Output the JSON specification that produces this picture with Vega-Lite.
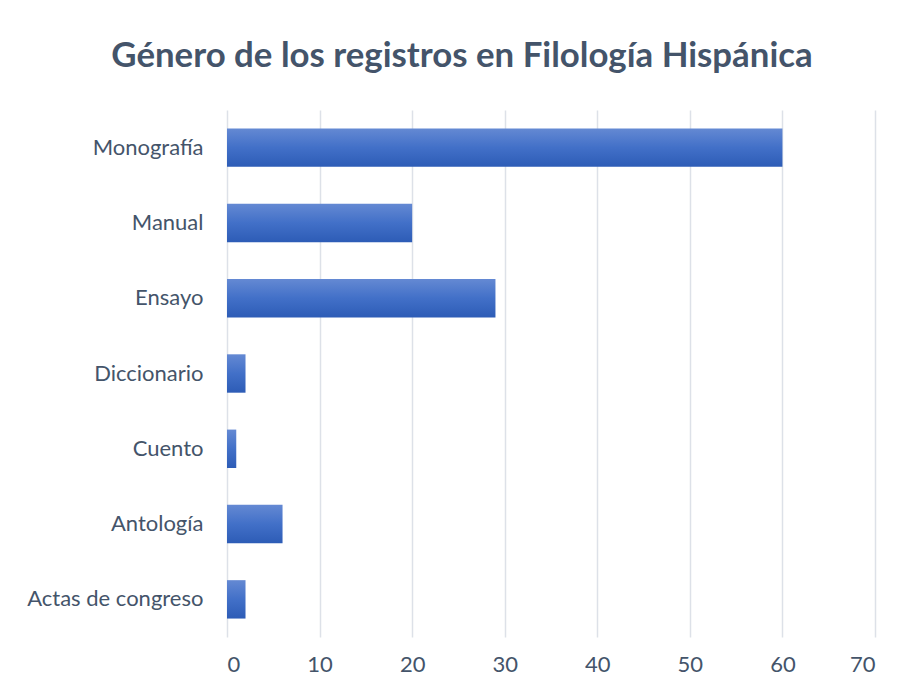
{
  "$schema": "https://vega.github.io/schema/vega-lite/v6.json",
  "width": 648,
  "height": 527,
  "autosize": {"type": "none"},
  "padding": {"left": 227, "top": 110, "right": 31, "bottom": 54},
  "background": "white",
  "title": {
    "text": "Género de los registros en Filología Hispánica",
    "font": "Lato",
    "fontSize": 34.8,
    "fontWeight": "bold",
    "color": "#44546A",
    "anchor": "middle",
    "frame": "group",
    "dx": -89,
    "offset": 35
  },
  "data": {
    "values": [
      {"genero": "Monografía", "n": 60},
      {"genero": "Manual", "n": 20},
      {"genero": "Ensayo", "n": 29},
      {"genero": "Diccionario", "n": 2},
      {"genero": "Cuento", "n": 1},
      {"genero": "Antología", "n": 6},
      {"genero": "Actas de congreso", "n": 2}
    ]
  },
  "mark": {
    "type": "bar",
    "color": {
      "gradient": "linear",
      "x1": 0, "y1": 0, "x2": 0, "y2": 1,
      "stops": [
        {"offset": 0, "color": "#6489d3"},
        {"offset": 0.5, "color": "#4270c8"},
        {"offset": 1, "color": "#2d5cb6"}
      ]
    }
  },
  "encoding": {
    "y": {
      "field": "genero",
      "type": "nominal",
      "sort": null,
      "scale": {"paddingInner": 0.49, "paddingOuter": 0.245},
      "axis": {
        "title": null,
        "ticks": false,
        "domain": false,
        "labelFont": "Lato",
        "labelFontSize": 22,
        "labelColor": "#44546A",
        "labelPadding": 24
      }
    },
    "x": {
      "field": "n",
      "type": "quantitative",
      "scale": {"domain": [0, 70], "nice": false},
      "axis": {
        "title": null,
        "values": [0, 10, 20, 30, 40, 50, 60, 70],
        "ticks": false,
        "domain": false,
        "grid": true,
        "gridColor": "#dde1e8",
        "gridWidth": 1.5,
        "labelFont": "Lato",
        "labelFontSize": 22,
        "labelColor": "#44546A",
        "labelPadding": 17
      }
    }
  },
  "config": {"view": {"stroke": null}}
}
